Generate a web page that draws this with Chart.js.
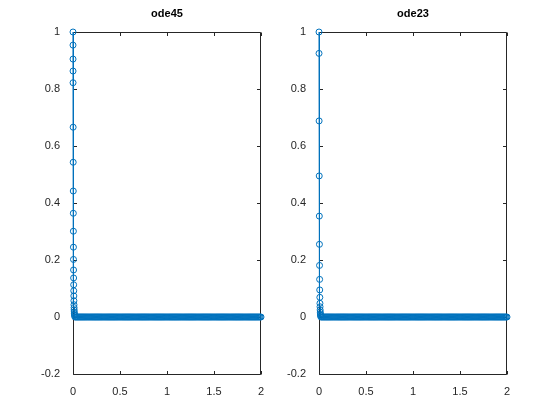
<!DOCTYPE html>
<html>
<head>
<meta charset="utf-8">
<script src="https://cdn.jsdelivr.net/npm/chart.js@4.4.1/dist/chart.umd.min.js"></script>
<style>
  html, body { margin: 0; padding: 0; background: #fff; }
  #wrap { position: relative; width: 560px; height: 420px; background: #fff; }
  canvas { position: absolute; left: 0; top: 0; }
</style>
</head>
<body>
<div id="wrap">
  <canvas id="c1" width="560" height="420"></canvas>
  <canvas id="c2" width="560" height="420"></canvas>
</div>
<script>
// ---- data ----
const titles = ["ode45", "ode23"];
const xTicks = [0, 0.5, 1, 1.5, 2];
const yTicks = [-0.2, 0, 0.2, 0.4, 0.6, 0.8, 1];

// ode45: fast decay near t = 0
const ode45T = [0, 0.00016, 0.00033, 0.00049, 0.00065, 0.00136, 0.0020, 0.0027, 0.0034, 0.0040,
                0.0047, 0.0053, 0.0060, 0.0066, 0.0073, 0.0080, 0.0087, 0.0095, 0.0105, 0.0114,
                0.0123, 0.0134, 0.0147, 0.0161, 0.0177];
const ode45Y = [1.0, 0.954, 0.905, 0.863, 0.822, 0.666, 0.543, 0.442, 0.364, 0.301,
                0.245, 0.202, 0.165, 0.137, 0.113, 0.092, 0.074, 0.057, 0.043, 0.033,
                0.025, 0.018, 0.012, 0.008, 0.005];

// ode23: fast decay near t = 0
const ode23T = [0, 0.00026, 0.00125, 0.00234, 0.00346, 0.00455, 0.0057, 0.0067, 0.0078, 0.0089,
                0.0101, 0.0111, 0.0123, 0.0136, 0.0150, 0.0165, 0.0184];
const ode23Y = [1.0, 0.925, 0.688, 0.495, 0.354, 0.255, 0.181, 0.132, 0.095, 0.069,
                0.048, 0.036, 0.025, 0.017, 0.011, 0.007, 0.004];

// dense steps along y ~ 0 up to t = 2 (both solvers)
const tailT = [0.02,0.03,0.04,0.05,0.06,0.07,0.08,0.09,0.10,0.11,
               0.12,0.13,0.14,0.15,0.16,0.17,0.18,0.19,0.20,0.21,
               0.22,0.23,0.24,0.25,0.26,0.27,0.28,0.29,0.30,0.31,
               0.32,0.33,0.34,0.35,0.36,0.37,0.38,0.39,0.40,0.41,
               0.42,0.43,0.44,0.45,0.46,0.47,0.48,0.49,0.50,0.51,
               0.52,0.53,0.54,0.55,0.56,0.57,0.58,0.59,0.60,0.61,
               0.62,0.63,0.64,0.65,0.66,0.67,0.68,0.69,0.70,0.71,
               0.72,0.73,0.74,0.75,0.76,0.77,0.78,0.79,0.80,0.81,
               0.82,0.83,0.84,0.85,0.86,0.87,0.88,0.89,0.90,0.91,
               0.92,0.93,0.94,0.95,0.96,0.97,0.98,0.99,1.00,1.01,
               1.02,1.03,1.04,1.05,1.06,1.07,1.08,1.09,1.10,1.11,
               1.12,1.13,1.14,1.15,1.16,1.17,1.18,1.19,1.20,1.21,
               1.22,1.23,1.24,1.25,1.26,1.27,1.28,1.29,1.30,1.31,
               1.32,1.33,1.34,1.35,1.36,1.37,1.38,1.39,1.40,1.41,
               1.42,1.43,1.44,1.45,1.46,1.47,1.48,1.49,1.50,1.51,
               1.52,1.53,1.54,1.55,1.56,1.57,1.58,1.59,1.60,1.61,
               1.62,1.63,1.64,1.65,1.66,1.67,1.68,1.69,1.70,1.71,
               1.72,1.73,1.74,1.75,1.76,1.77,1.78,1.79,1.80,1.81,
               1.82,1.83,1.84,1.85,1.86,1.87,1.88,1.89,1.90,1.91,
               1.92,1.93,1.94,1.95,1.96,1.97,1.98,1.99,2.00];
const tailY = [0,0,0,0,0,0,0,0,0,0,
               0,0,0,0,0,0,0,0,0,0,
               0,0,0,0,0,0,0,0,0,0,
               0,0,0,0,0,0,0,0,0,0,
               0,0,0,0,0,0,0,0,0,0,
               0,0,0,0,0,0,0,0,0,0,
               0,0,0,0,0,0,0,0,0,0,
               0,0,0,0,0,0,0,0,0,0,
               0,0,0,0,0,0,0,0,0,0,
               0,0,0,0,0,0,0,0,0,0,
               0,0,0,0,0,0,0,0,0,0,
               0,0,0,0,0,0,0,0,0,0,
               0,0,0,0,0,0,0,0,0,0,
               0,0,0,0,0,0,0,0,0,0,
               0,0,0,0,0,0,0,0,0,0,
               0,0,0,0,0,0,0,0,0,0,
               0,0,0,0,0,0,0,0,0,0,
               0,0,0,0,0,0,0,0,0,0,
               0,0,0,0,0,0,0,0,0,0,
               0,0,0,0,0,0,0,0,0];

// ---- chart building ----
const BLUE = '#0072BD';
const AX = '#262626';
const FONT = '"Liberation Sans", Arial, sans-serif';

function pts(t, y) { return t.map((v, i) => ({ x: v, y: y[i] })); }

const boxPlugin = {
  id: 'mbox',
  beforeDatasetsDraw(chart) {
    const { ctx, chartArea: a, scales } = chart;
    const L = a.left + 0.5, R = a.right - 0.5, T = a.top + 0.5, B = a.bottom + 0.5;
    ctx.save();
    ctx.strokeStyle = AX;
    ctx.lineWidth = 1;
    ctx.beginPath();
    ctx.rect(L, T, R - L, B - T);
    const tl = 3.5;
    xTicks.forEach(v => {
      const px = Math.round(scales.x.getPixelForValue(v)) + 0.5;
      ctx.moveTo(px, B); ctx.lineTo(px, B - tl);
      ctx.moveTo(px, T); ctx.lineTo(px, T + tl);
    });
    yTicks.forEach(v => {
      const py = Math.round(scales.y.getPixelForValue(v)) + 0.5;
      ctx.moveTo(L, py); ctx.lineTo(L + tl, py);
      ctx.moveTo(R, py); ctx.lineTo(R - tl, py);
    });
    ctx.stroke();
    ctx.restore();
  },
  afterDraw(chart, args, opts) {
    const { ctx, chartArea: a } = chart;
    ctx.save();
    ctx.fillStyle = '#000';
    ctx.font = 'bold 11px ' + FONT;
    ctx.textAlign = 'center';
    ctx.textBaseline = 'alphabetic';
    ctx.fillText(opts.text, (a.left + a.right) / 2, 17);
    ctx.restore();
  }
};

function makeChart(id, title, t, y, yAxisWidth, padRight) {
  return new Chart(document.getElementById(id), {
    type: 'line',
    data: {
      datasets: [{
        data: pts(t.concat(tailT), y.concat(tailY)),
        borderColor: BLUE,
        borderWidth: 1,
        pointRadius: 3,
        pointBorderWidth: 1,
        pointBorderColor: BLUE,
        pointBackgroundColor: 'rgba(0,0,0,0)',
        pointStyle: 'circle',
        tension: 0,
        clip: false
      }]
    },
    options: {
      responsive: false,
      animation: false,
      devicePixelRatio: 1,
      layout: { padding: { left: 0, right: padRight, top: 32, bottom: 0 } },
      plugins: {
        legend: { display: false },
        tooltip: { enabled: false },
        title: { display: false },
        mbox: { text: title }
      },
      scales: {
        x: {
          type: 'linear', min: 0, max: 2,
          afterBuildTicks: s => { s.ticks = xTicks.map(v => ({ value: v })); },
          ticks: { color: AX, font: { family: FONT, size: 11 }, padding: 3, maxRotation: 0,
                   callback: v => String(v) },
          grid: { display: false },
          border: { display: false },
          afterFit: s => { s.height = 46; }
        },
        y: {
          type: 'linear', min: -0.2, max: 1,
          afterBuildTicks: s => { s.ticks = yTicks.map(v => ({ value: v })); },
          ticks: { color: AX, font: { family: FONT, size: 11 }, padding: 5,
                   callback: v => String(Math.round(v * 10) / 10) },
          grid: { display: false },
          border: { display: false },
          afterFit: s => { s.width = yAxisWidth; }
        }
      }
    },
    plugins: [boxPlugin]
  });
}

makeChart('c1', titles[0], ode45T, ode45Y, 73, 299);
makeChart('c2', titles[1], ode23T, ode23Y, 319, 53);
</script>
</body>
</html>
